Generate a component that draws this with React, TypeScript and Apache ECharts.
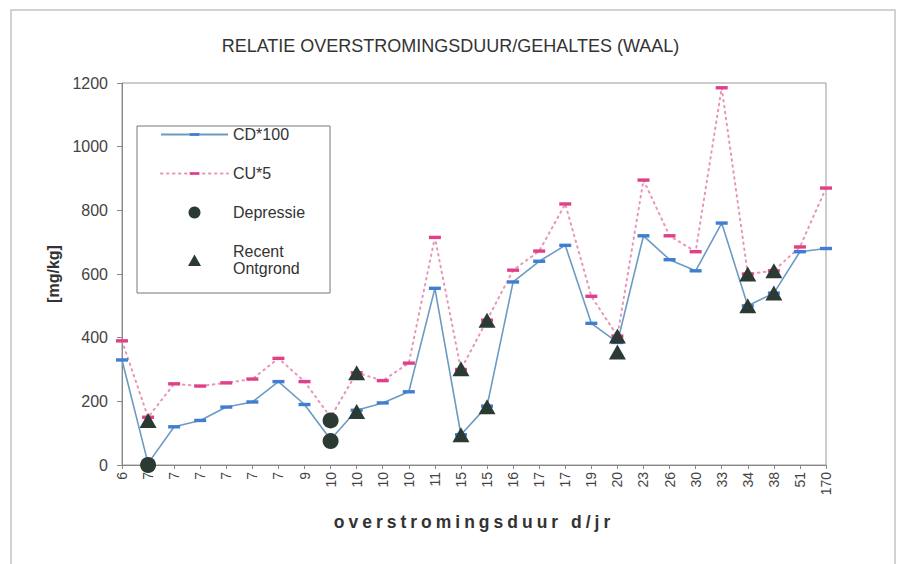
import React, { useEffect, useRef } from "react";
import * as echarts from "echarts";

const categories = ["6", "7", "7", "7", "7", "7", "7", "9", "10", "10", "10", "10", "11", "15", "15", "16", "17", "17", "19", "20", "23", "26", "30", "33", "34", "38", "51", "170"];
const cd100 = [330, 5, 120, 140, 182, 198, 262, 190, 80, 172, 195, 230, 555, 95, 185, 575, 640, 690, 445, 385, 720, 645, 610, 760, 500, 540, 670, 680];
const cu5 = [390, 150, 255, 248, 258, 270, 335, 262, 150, 290, 265, 320, 715, 300, 455, 612, 672, 820, 530, 405, 895, 720, 670, 1185, 600, 610, 685, 870];
const depressiePoints = [[1, 0], [8, 140], [8, 75]];
const recentPoints = [[1, 140], [9, 290], [9, 168], [13, 302], [13, 95], [14, 455], [14, 183], [19, 405], [19, 355], [24, 600], [24, 500], [25, 610], [25, 540]];
const yTicks = { min: 0, max: 1200, interval: 200 };

const FONT = "'Liberation Sans', Arial, sans-serif";
// dash marker inside a square bounding box (so it keeps its shape in the legend too)
const DASH = "path://M0 0M12 12M0 4.3H12V7.7H0Z";
const LEGEND_TRIANGLE = "path://M0 0M67 12M27 12L33.5 0.5L40 12Z";

export default function App() {
  const ref = useRef<HTMLDivElement>(null);
  useEffect(() => {
    if (!ref.current) return;
    const chart = echarts.init(ref.current, null, { renderer: "svg" });
    chart.setOption({
      animation: false,
      backgroundColor: "#ffffff",
      textStyle: { fontFamily: FONT },
      title: {
        text: "RELATIE OVERSTROMINGSDUUR/GEHALTES (WAAL)",
        left: "center",
        top: 32,
        textStyle: { fontFamily: FONT, fontSize: 18, fontWeight: "normal", color: "#333" },
      },
      graphic: [
        {
          type: "rect",
          shape: { x: 11, y: 10, width: 884, height: 600 },
          style: { fill: "none", stroke: "#c4c4c4", lineWidth: 1.5 },
          silent: true,
        },
      ],
      legend: {
        orient: "vertical",
        left: 137,
        top: 126,
        padding: [0, 25, 16, 23],
        itemWidth: 67,
        itemHeight: 12,
        itemGap: 22,
        borderColor: "#777",
        borderWidth: 1,
        backgroundColor: "#fff",
        textStyle: { fontFamily: FONT, fontSize: 16, color: "#333", lineHeight: 17 },
        formatter: (name: string) => (name === "Recent Ontgrond" ? "Recent\nOntgrond" : name),
        data: ["CD*100", "CU*5", "Depressie", { name: "Recent Ontgrond", icon: LEGEND_TRIANGLE }],
      },
      grid: {
        left: 122,
        right: 75,
        top: 83,
        bottom: 99,
        show: true,
        borderColor: "#9a9a9a",
        borderWidth: 1,
        backgroundColor: "transparent",
      },
      xAxis: {
        type: "category",
        data: categories,
        boundaryGap: false,
        name: "overstromingsduur d/jr",
        nameLocation: "middle",
        nameGap: 48,
        nameTextStyle: { fontFamily: FONT, fontSize: 17.5, fontWeight: "bold", color: "#333" },
        axisLine: { lineStyle: { color: "#888", width: 1 } },
        axisTick: { show: true, length: 4, interval: 0, lineStyle: { color: "#888" } },
        axisLabel: { interval: 0, rotate: 90, fontSize: 14, color: "#444", margin: 7, fontFamily: FONT },
        splitLine: { show: false },
      },
      yAxis: {
        type: "value",
        min: yTicks.min,
        max: yTicks.max,
        interval: yTicks.interval,
        name: "[mg/kg]",
        nameLocation: "middle",
        nameGap: 49,
        nameTextStyle: { fontFamily: FONT, fontSize: 16, fontWeight: "bold", color: "#333" },
        axisLine: { show: true, lineStyle: { color: "#888", width: 1 } },
        axisTick: { show: true, length: 5, lineStyle: { color: "#888" } },
        axisLabel: { fontSize: 16, color: "#444", margin: 14, fontFamily: FONT, formatter: (v: number) => String(v) },
        splitLine: { show: false },
      },
      series: [
        {
          name: "CD*100",
          type: "line",
          data: cd100,
          symbol: DASH,
          symbolSize: 12,
          itemStyle: { color: "#3f7ed0" },
          lineStyle: { color: "#6b9bc4", width: 1.6 },
          z: 2,
        },
        {
          name: "CU*5",
          type: "line",
          data: cu5,
          symbol: DASH,
          symbolSize: 12,
          itemStyle: { color: "#e0408a" },
          lineStyle: { color: "#e896b8", width: 2, type: [1.5, 4.5], cap: "round" },
          z: 2,
        },
        {
          name: "Depressie",
          type: "scatter",
          data: depressiePoints,
          symbol: "circle",
          symbolSize: 16,
          itemStyle: { color: "#2c3a34", opacity: 1 },
          z: 3,
        },
        {
          name: "Recent Ontgrond",
          type: "scatter",
          data: recentPoints,
          symbol: "triangle",
          symbolSize: [17, 15],
          itemStyle: { color: "#2c3a34", opacity: 1 },
          z: 3,
        },
      ],
    });
    return () => chart.dispose();
  }, []);
  return (
    <div style={{ position: "absolute", left: 0, top: 0, width: 901, height: 564, background: "#fff" }}>
      <style>{`.chart-host svg text[style*="17.5px"] { letter-spacing: 4px; }`}</style>
      <div className="chart-host" ref={ref} style={{ width: 901, height: 564 }} />
    </div>
  );
}
